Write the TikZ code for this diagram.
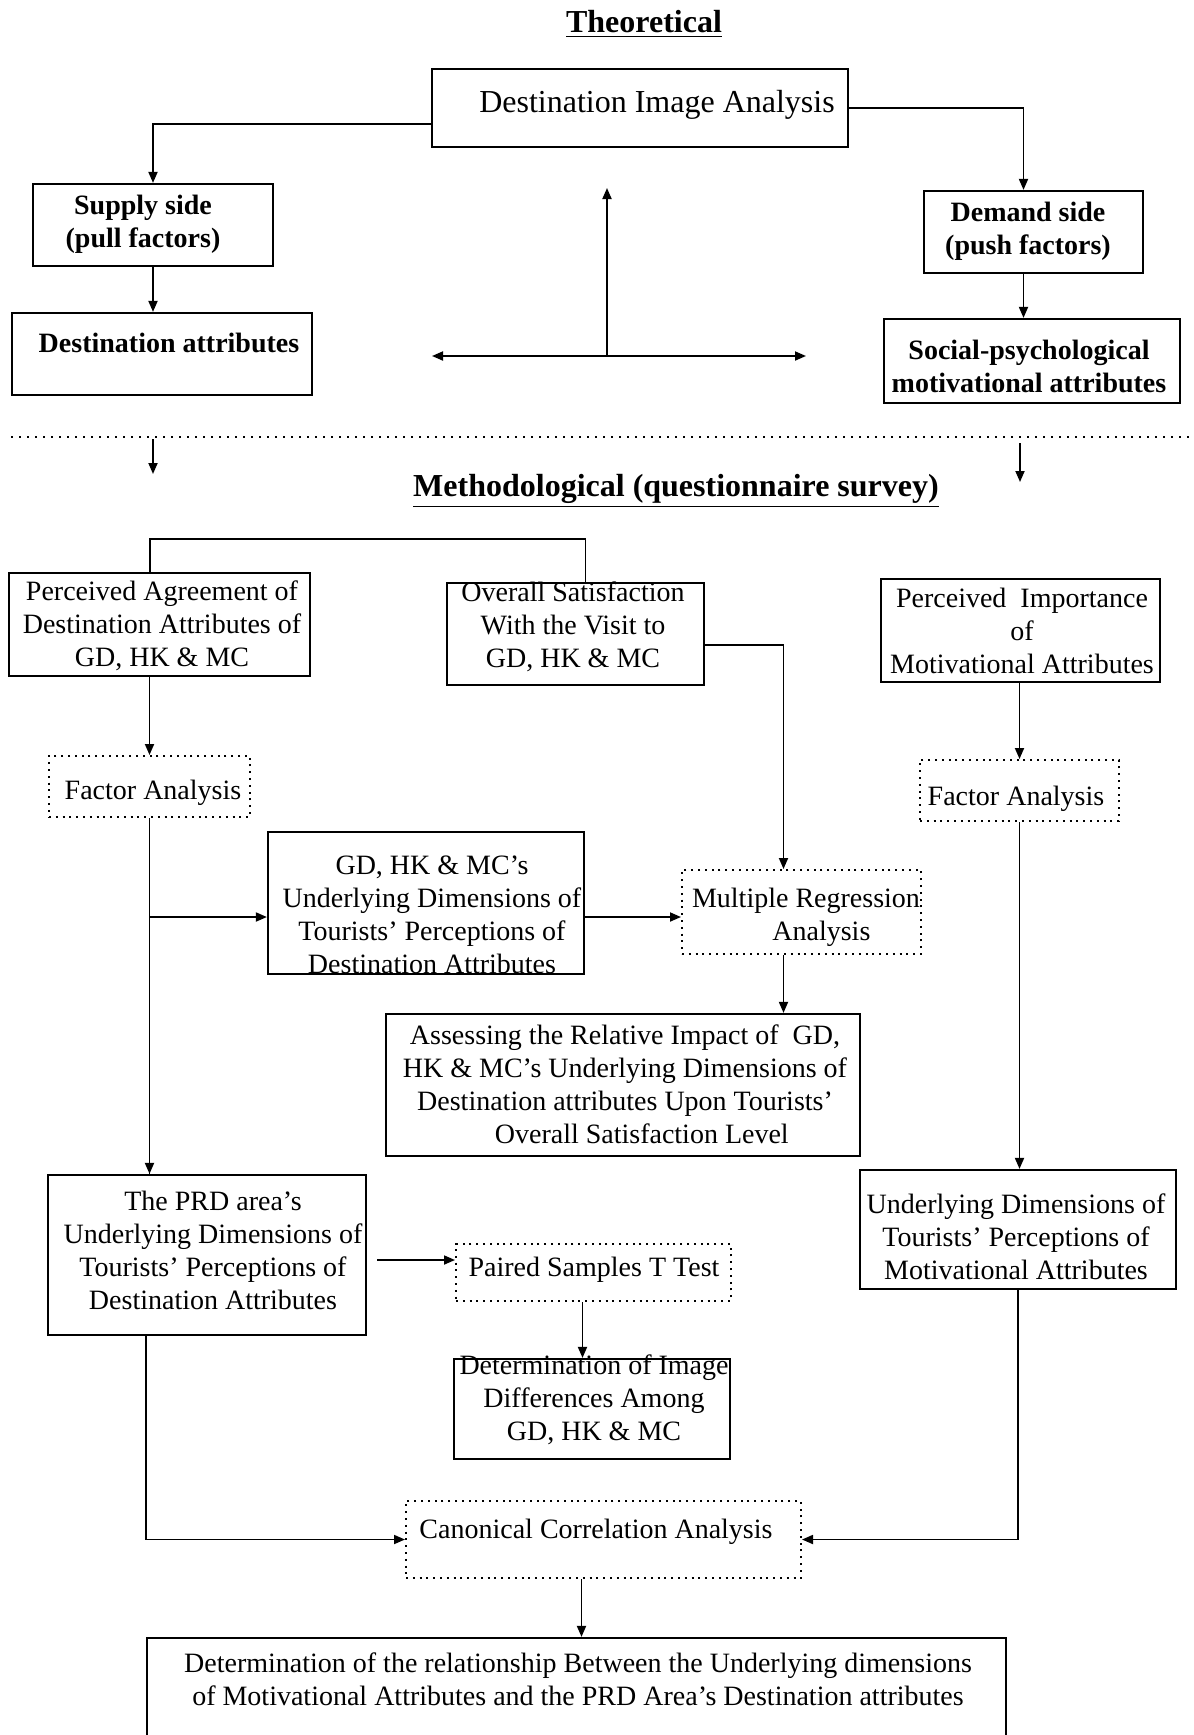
\documentclass[tikz,border=0pt]{standalone}
\usepackage{fontspec}
\setmainfont{Liberation Serif}
\usetikzlibrary{arrows.meta,fit}
\begin{document}
\begin{tikzpicture}[x=0.5pt,y=-0.5pt,
  box/.style={draw, line width=1.1pt, inner sep=0pt},
  dbox/.style={draw, line width=1pt, dash pattern=on 1pt off 2.4pt, inner sep=0pt},
  txt/.style={font=\fontsize{14pt}{16.5pt}\selectfont, align=center, inner sep=0pt},
  btxt/.style={font=\fontsize{14pt}{16.5pt}\selectfont\bfseries, align=center, inner sep=0pt},
  ttl/.style={font=\fontsize{16pt}{19pt}\selectfont\bfseries, inner sep=0pt},
  conn/.style={line width=0.9pt},
  tip/.tip={Triangle[length=5.5pt,width=4.5pt]},
  arr/.style={conn, -tip},
]
\path[use as bounding box, clip] (0,0) rectangle (1194,1735);
\fill[white] (0,0) rectangle (1194,1735);

% ---------- Theoretical part ----------
\node[ttl] (tTheo) at (644,24) {\underline{Theoretical}};

\node[box, fit={(432,69) (848,147)}] (DIA) {};
\node[txt, font=\fontsize{16pt}{19pt}\selectfont] (tDIA) at (657,105) {Destination Image Analysis};

\node[box, fit={(33,184) (273,266)}] (Supply) {};
\node[btxt] (tSupply) at (143,224) {Supply side\\(pull factors)};

\node[box, fit={(12,313) (312,395)}] (DestA) {};
\node[btxt] (tDestA) at (169,343) {Destination attributes};

\node[box, fit={(924,191) (1143,273)}] (Demand) {};
\node[btxt] (tDemand) at (1028,231) {Demand side\\(push factors)};

\node[box, fit={(884,319) (1180,403)}] (Social) {};
\node[btxt] (tSocial) at (1029,366) {Social-psychological\\motivational attributes};

\draw[arr] ([yshift=-8pt]DIA.west) -| (Supply.north);
\draw[arr] (DIA.east) -| ([xshift=-5pt]Demand.north);
\draw[arr] (Supply.south) -- (Supply.south |- DestA.north);
\draw[arr] ([xshift=-5pt]Demand.south) -- ([xshift=-5pt]Demand.south |- Social.north);

\coordinate (hL) at (432,356);
\coordinate (hR) at (806,356);
\coordinate (vB) at (607,355);
\coordinate (vT) at (607,188);
\draw[conn, tip-tip] (hL) -- (hR);
\draw[arr] (vB) -- (vT);

% ---------- separator ----------
\coordinate (sepL) at (11,437);
\coordinate (sepR) at (1194,437);
\draw[line width=0.9pt, dash pattern=on 1pt off 3pt] (sepL) -- (sepR);
\coordinate (dL1) at (153,439);
\coordinate (dL2) at (153,474);
\coordinate (dR1) at (1020,443);
\coordinate (dR2) at (1020,482);
\draw[arr] (dL1) -- (dL2);
\draw[arr] (dR1) -- (dR2);

% ---------- Methodological part ----------
\node[ttl] (tMeth) at (676,491) {\underline{Methodological (questionnaire survey)}};

\node[box, fit={(9,573) (310,676)}] (PA) {};
\node[txt] (tPA) at (162,626) {Perceived Agreement of\\Destination Attributes of\\GD, HK \& MC};

\node[box, fit={(447,583) (704,685)}] (OS) {};
\node[txt] (tOS) at (573,627) {Overall Satisfaction\\With the Visit to\\GD, HK \& MC};

\node[box, fit={(881,579) (1160,682)}] (PI) {};
\node[txt] (tPI) at (1022,631) {Perceived\ \ Importance\\of\\Motivational Attributes};

\coordinate (brk) at (150,539);
\draw[conn] (PA.north -| brk) -- (brk) -| ([xshift=5pt]OS.north);

\node[dbox, fit={(49,756) (250,817)}] (FAL) {};
\node[txt] (tFAL) at (153,793) {Factor Analysis};

\node[dbox, fit={(920,760) (1119,821)}] (FAR) {};
\node[txt] (tFAR) at (1016,799) {Factor Analysis};

\draw[arr] (FAL.north |- PA.south) -- (FAL.north);
\draw[arr] (FAR.north |- PI.south) -- (FAR.north);

\node[box, fit={(268,832) (584,974)}] (GD) {};
\node[txt] (tGD) at (432,915) {GD, HK \& MC’s\\Underlying Dimensions of\\Tourists’ Perceptions of\\Destination Attributes};

\node[dbox, fit={(682,870) (921,954)}] (MR) {};
\node[txt] (tMR) at (806,917) {Multiple Regression\\\hspace*{1.1em}Analysis};

\node[box, fit={(386,1014) (860,1156)}] (AS) {};
\node[txt] (tAS) at (625,1084) {Assessing the Relative Impact of\ \ GD,\\HK \& MC’s Underlying Dimensions of\\Destination attributes Upon Tourists’\\\hspace*{1.2em}Overall Satisfaction Level};

\node[box, fit={(48,1175) (366,1335)}] (PRD) {};
\node[txt] (tPRD) at (213,1250) {The PRD area’s\\Underlying Dimensions of\\Tourists’ Perceptions of\\Destination Attributes};

\node[dbox, fit={(456,1244) (731,1301)}] (PST) {};
\node[txt] (tPST) at (594,1270) {Paired Samples T Test};

\node[box, fit={(454,1359) (730,1459)}] (DI) {};
\node[txt] (tDI) at (594,1400) {Determination of Image\\Differences Among\\GD, HK \& MC};

\node[box, fit={(860,1170) (1176,1289)}] (UDM) {};
\node[txt] (tUDM) at (1016,1237) {Underlying Dimensions of\\Tourists’ Perceptions of\\Motivational Attributes};

\node[dbox, fit={(406,1501) (801,1578)}] (CCA) {};
\node[txt] (tCCA) at (596,1532) {Canonical Correlation Analysis};

\node[box, fit={(147,1638) (1006,1780)}] (BOT) {};
\node[txt] (tBOT) at (578,1679) {Determination of the relationship Between the Underlying dimensions\\of Motivational Attributes and the PRD Area’s Destination attributes};

% connectors
\coordinate (gdin) at ([yshift=-7pt]GD.west);
\coordinate (gdout) at ([yshift=-7pt]GD.east);
\draw[conn] (FAL.south) -- (FAL.south |- PRD.north);
\draw[arr] (FAL.south |- PRD.north) ++(0,-1) -- (FAL.south |- PRD.north);
\draw[arr] (FAL.south |- gdin) -- (gdin);
\draw[arr] (gdout) -- (MR.west |- gdout);
\draw[arr] ([yshift=-5.5pt]OS.east) -| ([xshift=-9pt]MR.north);
\draw[arr] ([xshift=-9pt]MR.south) -- ([xshift=-9pt]MR.south |- AS.north);
\draw[arr] (FAR.south) -- (FAR.south |- UDM.north);
\coordinate (prdout) at ([xshift=5pt,yshift=-2.5pt]PRD.east);
\draw[arr] (prdout) -- (PST.west |- prdout);
\draw[arr] ([xshift=-5.5pt]PST.south) -- ([xshift=-5.5pt]PST.south |- DI.north);
\draw[arr] ([xshift=-30.5pt]PRD.south) |- (CCA.west);
\draw[arr] (UDM.south) |- (CCA.east);
\draw[arr] ([xshift=-11pt]CCA.south) -- ([xshift=-11pt]CCA.south |- BOT.north);
\end{tikzpicture}
\end{document}
